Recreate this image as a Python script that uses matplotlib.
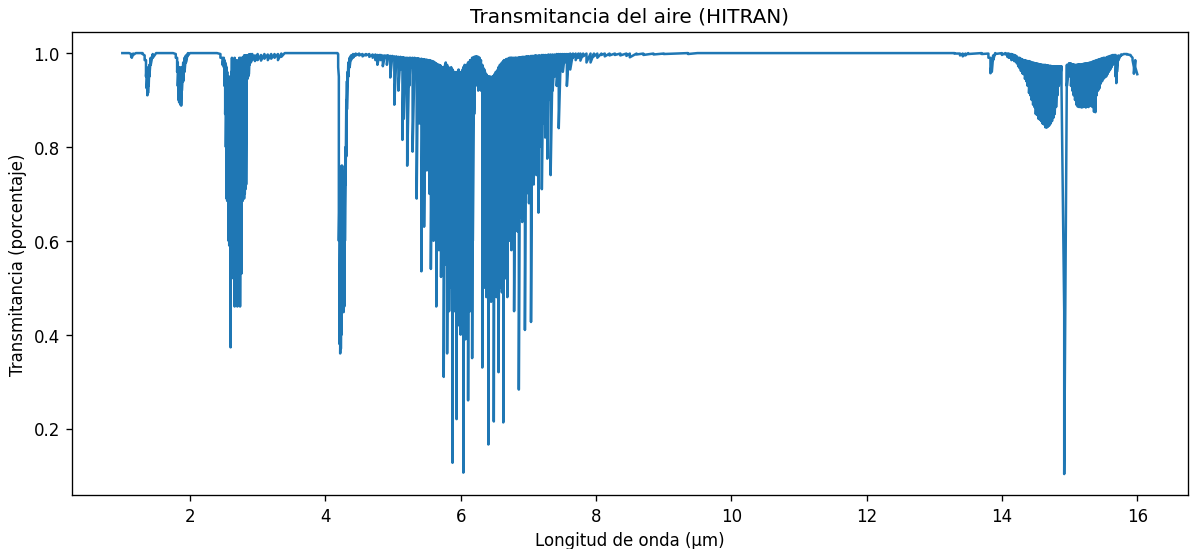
import numpy as np
import matplotlib
matplotlib.use("Agg")
import matplotlib.pyplot as plt

# Transmittance bands: wavelength (µm), upper and lower value of the trace at that point
nir_wl = [1.00, 1.10, 1.13, 1.14, 1.16, 1.20, 1.30, 1.33, 1.35, 1.36, 1.37, 1.38, 1.39, 1.40,
          1.42, 1.45, 1.50, 1.75, 1.79, 1.81, 1.82, 1.83, 1.84, 1.85, 1.86, 1.87, 1.88, 1.90,
          1.92, 1.94, 1.97, 2.00, 2.40, 2.45, 2.48]
nir_top = [1.0, 1.0, 0.998, 0.997, 0.999, 1.0, 1.0, 0.995, 0.985, 0.97, 0.96, 0.95, 0.96, 0.975,
           0.99, 0.998, 1.0, 1.0, 0.998, 0.99, 0.98, 0.97, 0.96, 0.97, 0.95, 0.96, 0.97, 0.98,
           0.99, 0.995, 1.0, 1.0, 1.0, 0.998, 0.99]
nir_bot = [1.0, 1.0, 0.993, 0.99, 0.996, 1.0, 0.998, 0.985, 0.95, 0.925, 0.91, 0.915, 0.93, 0.95,
           0.975, 0.99, 1.0, 1.0, 0.99, 0.96, 0.93, 0.90, 0.895, 0.90, 0.89, 0.888, 0.92, 0.94,
           0.96, 0.98, 0.995, 1.0, 1.0, 0.99, 0.975]

band27_wl = [2.50, 2.51, 2.52, 2.53, 2.54, 2.55, 2.56, 2.57, 2.58, 2.59, 2.60, 2.61, 2.62, 2.63,
             2.64, 2.65, 2.66, 2.67, 2.68, 2.69, 2.70, 2.71, 2.72, 2.73, 2.74, 2.75, 2.76, 2.77,
             2.78, 2.79, 2.80, 2.81, 2.82, 2.83, 2.84, 2.85, 2.86, 2.87, 2.88, 2.90, 2.92, 2.96,
             3.00, 3.05, 3.10, 3.15, 3.20, 3.25, 3.30, 3.35, 3.40]
band27_top = [0.99, 0.985, 0.98, 0.975, 0.97, 0.96, 0.95, 0.94, 0.93, 0.95, 0.93, 0.96, 0.99, 0.95,
              0.93, 0.98, 0.99, 0.94, 0.93, 0.985, 0.98, 0.97, 0.985, 0.99, 0.98, 0.99, 0.985, 0.99,
              0.99, 0.99, 0.995, 0.995, 0.995, 0.995, 0.995, 0.995, 0.995, 0.997, 0.997, 0.998, 0.998, 0.995,
              0.998, 0.996, 0.998, 0.997, 0.998, 0.998, 0.998, 0.999, 1.0]
band27_bot = [0.97, 0.93, 0.87, 0.80, 0.69, 0.685, 0.69, 0.60, 0.59, 0.60, 0.373, 0.59, 0.60, 0.59,
              0.52, 0.55, 0.46, 0.48, 0.465, 0.47, 0.46, 0.50, 0.465, 0.47, 0.46, 0.53, 0.53, 0.69,
              0.685, 0.70, 0.69, 0.70, 0.71, 0.72, 0.95, 0.945, 0.95, 0.955, 0.975, 0.98, 0.985, 0.983,
              0.985, 0.984, 0.988, 0.985, 0.988, 0.99, 0.985, 0.992, 1.0]

co2_wl = [4.18, 4.19, 4.20, 4.21, 4.22, 4.23, 4.24, 4.25, 4.26, 4.27, 4.28, 4.29, 4.30, 4.31,
          4.32, 4.33, 4.34, 4.36, 4.38, 4.41, 4.45]
co2_top = [1.0, 0.998, 0.95, 0.70, 0.60, 0.55, 0.76, 0.76, 0.70, 0.62, 0.65, 0.75, 0.80, 0.90,
           0.94, 0.96, 0.98, 0.99, 0.995, 0.998, 0.999]
co2_bot = [1.0, 0.97, 0.60, 0.38, 0.36, 0.37, 0.40, 0.55, 0.45, 0.448, 0.46, 0.60, 0.72, 0.78,
           0.88, 0.93, 0.95, 0.97, 0.985, 0.99, 0.995]

h2o_wl = [4.50, 4.55, 4.60, 4.65, 4.70, 4.74, 4.77, 4.80, 4.82, 4.85, 4.88, 4.91, 4.93, 4.96,
          4.99, 5.02, 5.05, 5.08, 5.11, 5.14, 5.16, 5.19, 5.21, 5.24, 5.26, 5.29, 5.32, 5.35,
          5.37, 5.39, 5.42, 5.44, 5.46, 5.48, 5.50, 5.52, 5.54, 5.56, 5.58, 5.60, 5.62, 5.64,
          5.66, 5.68, 5.70, 5.71, 5.73, 5.75, 5.77, 5.78, 5.80, 5.82, 5.83, 5.85, 5.86, 5.88,
          5.89, 5.91, 5.92, 5.94, 5.95, 5.97, 5.98, 6.00, 6.01, 6.03, 6.04, 6.06, 6.07, 6.09,
          6.11, 6.12, 6.14, 6.15, 6.17, 6.18, 6.20, 6.22, 6.24, 6.26, 6.28, 6.30, 6.32, 6.33,
          6.35, 6.36, 6.38, 6.39, 6.41, 6.42, 6.44, 6.45, 6.47, 6.49, 6.50, 6.52, 6.53, 6.55,
          6.56, 6.58, 6.59, 6.61, 6.63, 6.64, 6.66, 6.67, 6.69, 6.71, 6.72, 6.74, 6.75, 6.77,
          6.79, 6.81, 6.82, 6.84, 6.86, 6.88, 6.89, 6.91, 6.93, 6.95, 6.97, 6.99, 7.01, 7.04,
          7.06, 7.08, 7.10, 7.12, 7.15, 7.17, 7.20, 7.22, 7.25, 7.28, 7.30, 7.33, 7.36, 7.39,
          7.42, 7.45, 7.48, 7.51, 7.54, 7.57, 7.60, 7.62, 7.66, 7.70, 7.74, 7.77, 7.81, 7.86,
          7.92, 7.97, 8.02, 8.08, 8.13, 8.20, 8.28, 8.36, 8.45, 8.50, 8.60, 8.70, 8.85, 9.00,
          9.36, 9.50]
h2o_top = [0.999, 0.998, 0.998, 0.998, 0.997, 0.997, 0.996, 0.996, 0.996, 0.995, 0.995, 0.995, 0.995, 0.994,
           0.994, 0.993, 0.993, 0.992, 0.992, 0.991, 0.991, 0.99, 0.99, 0.99, 0.99, 0.99, 0.99, 0.989,
           0.989, 0.988, 0.988, 0.987, 0.987, 0.986, 0.986, 0.985, 0.985, 0.984, 0.983, 0.982, 0.98, 0.978,
           0.976, 0.975, 0.974, 0.972, 0.97, 0.97, 0.975, 0.98, 0.975, 0.97, 0.968, 0.965, 0.97, 0.965,
           0.96, 0.96, 0.958, 0.957, 0.96, 0.965, 0.96, 0.958, 0.96, 0.965, 0.97, 0.975, 0.97, 0.975,
           0.98, 0.98, 0.985, 0.985, 0.99, 0.99, 0.992, 0.993, 0.993, 0.992, 0.99, 0.985, 0.975, 0.97,
           0.965, 0.96, 0.955, 0.95, 0.95, 0.95, 0.95, 0.948, 0.95, 0.952, 0.955, 0.96, 0.96, 0.965,
           0.97, 0.975, 0.975, 0.98, 0.982, 0.985, 0.985, 0.987, 0.988, 0.988, 0.99, 0.99, 0.99, 0.99,
           0.99, 0.99, 0.99, 0.99, 0.991, 0.991, 0.991, 0.992, 0.992, 0.992, 0.993, 0.993, 0.993, 0.994,
           0.994, 0.994, 0.995, 0.995, 0.995, 0.995, 0.996, 0.996, 0.996, 0.996, 0.997, 0.997, 0.997, 0.997,
           0.998, 0.998, 0.998, 0.998, 0.998, 0.998, 0.998, 0.999, 0.999, 0.999, 0.999, 0.999, 0.999, 0.999,
           0.999, 0.999, 0.999, 0.999, 0.999, 0.999, 0.999, 0.999, 0.999, 0.999, 0.999, 0.999, 0.999, 0.999,
           1.0, 1.0]
h2o_bot = [0.995, 0.993, 0.995, 0.992, 0.99, 0.985, 0.975, 0.99, 0.985, 0.972, 0.99, 0.975, 0.99, 0.948,
           0.985, 0.89, 0.975, 0.92, 0.965, 0.815, 0.86, 0.94, 0.76, 0.93, 0.97, 0.79, 0.95, 0.69,
           0.90, 0.85, 0.535, 0.80, 0.63, 0.90, 0.75, 0.81, 0.70, 0.54, 0.62, 0.60, 0.75, 0.46,
           0.65, 0.58, 0.60, 0.523, 0.60, 0.31, 0.58, 0.55, 0.36, 0.55, 0.45, 0.55, 0.50, 0.127,
           0.50, 0.45, 0.53, 0.22, 0.50, 0.42, 0.55, 0.40, 0.52, 0.48, 0.106, 0.50, 0.39, 0.55,
           0.26, 0.50, 0.45, 0.56, 0.35, 0.60, 0.87, 0.93, 0.95, 0.92, 0.94, 0.92, 0.33, 0.60,
           0.50, 0.55, 0.48, 0.52, 0.166, 0.50, 0.53, 0.47, 0.52, 0.215, 0.50, 0.55, 0.48, 0.52,
           0.32, 0.50, 0.56, 0.49, 0.213, 0.55, 0.52, 0.58, 0.48, 0.62, 0.60, 0.65, 0.58, 0.66,
           0.45, 0.63, 0.68, 0.62, 0.283, 0.65, 0.70, 0.64, 0.72, 0.41, 0.70, 0.75, 0.68, 0.427,
           0.76, 0.72, 0.80, 0.74, 0.66, 0.80, 0.71, 0.85, 0.82, 0.775, 0.90, 0.74, 0.92, 0.95,
           0.93, 0.84, 0.97, 0.96, 0.98, 0.93, 0.985, 0.965, 0.99, 0.985, 0.99, 0.984, 0.993, 0.98,
           0.98, 0.993, 0.99, 0.996, 0.993, 0.995, 0.996, 0.995, 0.994, 0.991, 0.997, 0.996, 0.997, 0.998,
           0.998, 1.0]

lwir_wl = [10.0, 12.0, 13.30, 13.38, 13.42, 13.46, 13.50, 13.70, 13.80, 13.83, 13.85, 13.87, 13.90, 14.00,
           14.05, 14.08, 14.10, 14.12, 14.14, 14.16, 14.18, 14.20, 14.22, 14.24, 14.26, 14.28, 14.30, 14.32,
           14.34, 14.36, 14.38, 14.40, 14.42, 14.44, 14.46, 14.48, 14.50, 14.52, 14.54, 14.56, 14.58, 14.60,
           14.62, 14.64, 14.66, 14.68, 14.70, 14.72, 14.74, 14.76, 14.78, 14.80, 14.82, 14.84, 14.86, 14.88,
           14.92, 14.96, 14.99, 15.00, 15.02, 15.04, 15.06, 15.08, 15.10,
           15.12, 15.14, 15.16, 15.18, 15.20, 15.22, 15.24, 15.26, 15.28, 15.30, 15.32, 15.34, 15.36, 15.38,
           15.40, 15.42, 15.44, 15.46, 15.48, 15.50, 15.52, 15.54, 15.56, 15.58, 15.60, 15.62, 15.64, 15.66,
           15.68, 15.69, 15.70, 15.72, 15.76, 15.80, 15.85, 15.90, 15.93, 15.95, 15.97, 16.00]
lwir_top = [1.0, 1.0, 1.0, 0.999, 0.999, 0.999, 1.0, 1.0, 0.999, 0.99, 0.98, 0.995, 1.0, 1.0,
            1.0, 0.999, 0.999, 0.998, 0.998, 0.997, 0.996, 0.995, 0.993, 0.99, 0.99, 0.988, 0.987, 0.985,
            0.985, 0.984, 0.983, 0.983, 0.982, 0.98, 0.98, 0.979, 0.978, 0.978, 0.977, 0.976, 0.976, 0.975,
            0.975, 0.975, 0.974, 0.974, 0.973, 0.973, 0.972, 0.972, 0.972, 0.972, 0.972, 0.972, 0.972, 0.972,
            0.45, 0.975, 0.978, 0.978, 0.978, 0.976, 0.976, 0.975, 0.975,
            0.976, 0.976, 0.976, 0.976, 0.977, 0.978, 0.978, 0.978, 0.979, 0.98, 0.98, 0.982, 0.983, 0.984,
            0.985, 0.986, 0.987, 0.988, 0.989, 0.99, 0.99, 0.99, 0.992, 0.993, 0.994, 0.995, 0.996, 0.996,
            0.996, 0.99, 0.99, 0.995, 0.997, 0.998, 0.998, 0.996, 0.99, 0.97, 0.985, 0.955]
lwir_bot = [1.0, 1.0, 0.999, 0.995, 0.993, 0.995, 0.998, 0.998, 0.99, 0.957, 0.96, 0.985, 0.998, 0.996,
            0.997, 0.992, 0.99, 0.99, 0.985, 0.987, 0.983, 0.982, 0.978, 0.972, 0.968, 0.962, 0.957, 0.955,
            0.945, 0.94, 0.93, 0.915, 0.91, 0.90, 0.89, 0.885, 0.87, 0.868, 0.86, 0.858, 0.855, 0.85,
            0.848, 0.842, 0.841, 0.843, 0.846, 0.85, 0.855, 0.862, 0.87, 0.885, 0.91, 0.93, 0.95, 0.93,
            0.103, 0.93, 0.95, 0.97, 0.93, 0.92, 0.91, 0.90, 0.89,
            0.886, 0.885, 0.885, 0.884, 0.885, 0.886, 0.884, 0.886, 0.885, 0.888, 0.887, 0.885, 0.875, 0.874,
            0.91, 0.92, 0.925, 0.935, 0.94, 0.945, 0.948, 0.95, 0.955, 0.96, 0.965, 0.97, 0.975, 0.98,
            0.95, 0.936, 0.96, 0.985, 0.995, 0.998, 0.997, 0.995, 0.985, 0.956, 0.97, 0.955]

# join the bands into one trace: each sample drops from its upper to its lower value
wl_bands = [nir_wl, band27_wl, co2_wl, h2o_wl, lwir_wl]
top_bands = [nir_top, band27_top, co2_top, h2o_top, lwir_top]
bot_bands = [nir_bot, band27_bot, co2_bot, h2o_bot, lwir_bot]

wl = np.concatenate(wl_bands)
top = np.concatenate(top_bands)
bot = np.concatenate(bot_bands)
x = np.repeat(wl, 2)
y = np.column_stack([top, bot]).ravel()

fig, ax = plt.subplots(figsize=(9.94, 4.583), dpi=120)
ax.plot(x, y)
ax.set_title("Transmitancia del aire (HITRAN)")
ax.set_xlabel("Longitud de onda (µm)")
ax.set_ylabel("Transmitancia (porcentaje)")
plt.subplots_adjust(left=0.06, right=0.996, top=0.94, bottom=0.098)
plt.savefig("out.png")
